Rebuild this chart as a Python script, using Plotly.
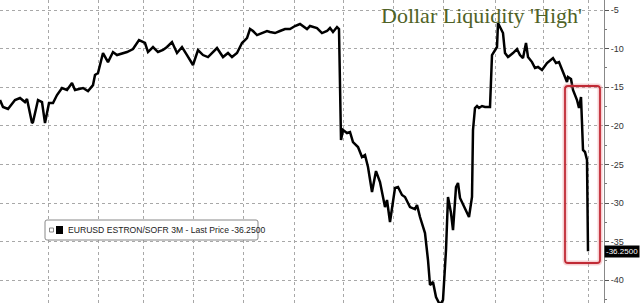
import plotly.graph_objects as go

# trading-day index (approx.) and spread values in bp
day = [0, 3, 8, 15, 20, 25, 27, 32, 33, 38, 42, 45, 49, 53, 57, 62, 67, 72, 75, 83,
       88, 93, 95, 98, 103, 108, 113, 117, 127, 133, 139, 145, 148, 153, 158, 163, 167, 172, 177, 182,
       187, 193, 198, 203, 208, 217, 223, 228, 232, 237, 242, 247, 250, 253, 257, 262, 267, 270, 275, 280,
       285, 290, 295, 300, 307, 310, 317, 322, 327, 330, 333, 337, 339, 341, 343, 347, 350, 353, 358, 362,
       365, 368, 372, 376, 380, 385, 387, 390, 395, 398, 402, 405, 410, 415, 417, 420, 425, 428, 430, 433,
       436, 440, 443, 446, 448, 451, 453, 456, 458, 460, 465, 469, 472, 473, 475, 477, 479, 482, 485, 490,
       492, 495, 497, 498, 500, 503, 505, 508, 513, 517, 520, 523, 526, 528, 532, 535, 538, 542, 547, 553,
       556, 559, 563, 567, 568, 571, 573, 577, 579, 581, 582, 583, 585, 587, 588]
spread = [-16.66, -17.56, -17.82, -16.66, -16.40, -16.92, -16.53, -19.64, -19.51, -16.66, -16.92, -19.64, -17.05, -17.05, -16.01, -15.10, -15.36, -14.46, -15.36, -15.10,
          -15.49, -14.72, -13.42, -13.16, -10.57, -11.74, -10.44, -10.83, -10.44, -10.05, -8.89, -9.27, -10.44, -9.79, -10.44, -10.18, -9.79, -9.15, -10.57, -9.79,
          -10.83, -12.12, -10.18, -10.83, -11.09, -9.92, -11.09, -10.57, -11.09, -10.57, -9.27, -8.63, -7.46, -7.72, -8.24, -7.98, -7.72, -7.85, -7.98, -7.72,
          -7.46, -7.46, -7.07, -6.81, -7.46, -7.07, -7.33, -7.98, -7.72, -7.33, -7.85, -7.20, -7.46, -21.84, -20.54, -20.93, -20.80, -22.10, -22.75, -24.04,
          -23.78, -25.34, -28.58, -25.86, -27.28, -30.52, -29.61, -32.46, -28.06, -27.93, -28.96, -29.22, -30.52, -30.78, -30.26, -31.81, -33.89, -37.38, -40.62, -40.23,
          -42.18, -43.20, -42.56, -36.09, -29.22, -31.30, -33.50, -27.93, -27.41, -29.35, -30.65, -31.81, -29.22, -20.54, -17.69, -17.44, -17.69, -17.44, -17.56, -17.56,
          -10.83, -10.18, -9.79, -6.68, -7.20, -7.98, -10.57, -11.09, -10.57, -10.05, -10.83, -11.22, -9.27, -11.09, -11.74, -12.51, -12.38, -12.77, -11.87, -11.22,
          -11.87, -11.74, -13.03, -14.33, -13.68, -13.94, -15.36, -16.66, -17.69, -16.27, -19.64, -23.13, -23.39, -24.43, -36.25]

grid_days = [48, 98, 143, 193, 243, 294, 343, 393, 443, 495, 543, 588]
y_ticks = [-5, -10, -15, -20, -25, -30, -35, -40]
y_labels = ["-5", "-10", "-15", "-20", "-25", "-30", "-35", "-40"]
last_price = -36.25
title_text = "Dollar Liquidity 'High'"
legend_text = "EURUSD ESTRON/SOFR 3M - Last Price -36.2500"
box_x = [565, 600]
box_y = [-14.84, -37.77]

fig = go.Figure()
fig.add_trace(go.Scatter(x=day, y=spread, mode="lines",
                         line=dict(color="black", width=2.5), showlegend=False,
                         hoverinfo="skip"))

def rounded(x0, x1, y0, y1, rx, ry):
    return (f"M {x0+rx},{y0} L {x1-rx},{y0} Q {x1},{y0} {x1},{y0-ry} "
            f"L {x1},{y1+ry} Q {x1},{y1} {x1-rx},{y1} L {x0+rx},{y1} "
            f"Q {x0},{y1} {x0},{y1+ry} L {x0},{y0-ry} Q {x0},{y0} {x0+rx},{y0} Z")

p = rounded(box_x[0], box_x[1], box_y[0], box_y[1], 3, 0.4)
fig.add_shape(type="path", path=p, xref="x", yref="y",
              line=dict(color="rgba(230,120,130,0.35)", width=5))
fig.add_shape(type="path", path=p, xref="x", yref="y",
              line=dict(color="#c02a35", width=1.8))

# legend box
fig.add_shape(type="path", xref="paper", yref="paper",
              path=rounded(45/604, 258/604, 1-220/303, 1-240/303, 2/604, 2/303),
              fillcolor="white", line=dict(color="#888", width=1), layer="above")
fig.add_shape(type="rect", xref="paper", yref="paper",
              x0=49.5/604, x1=53.5/604, y0=1-232/303, y1=1-228/303,
              line=dict(color="#888", width=1), fillcolor="white", layer="above")
fig.add_shape(type="rect", xref="paper", yref="paper",
              x0=56/604, x1=63/604, y0=1-234/303, y1=1-226/303,
              line=dict(color="black", width=0), fillcolor="black", layer="above")
fig.add_annotation(text=legend_text, xref="paper", yref="paper",
                   x=65.5/604, y=1-230/303, xanchor="left", yanchor="middle",
                   showarrow=False, font=dict(family="Liberation Sans", size=8.6, color="#222"))

# last price tag
fig.add_annotation(text=f"{last_price:.4f}", xref="paper", yref="y",
                   x=1, y=last_price, xanchor="left", yanchor="middle",
                   showarrow=False, bgcolor="black", borderpad=1,
                   font=dict(family="Liberation Sans Narrow, Liberation Sans", size=8, color="white"))

# title
fig.add_annotation(text=title_text, xref="paper", yref="paper",
                   x=481/604, y=1-15/303, xanchor="center", yanchor="middle",
                   showarrow=False,
                   font=dict(family="Liberation Serif", size=22, color="#4f6226"))

fig.update_xaxes(range=[0, 604], tickvals=grid_days, showticklabels=False,
                 showgrid=True, griddash="dot", gridcolor="#a8a8a8", gridwidth=1,
                 zeroline=False, showline=False, ticks="")
fig.update_yaxes(range=[-42.95, -3.70], side="right", tickvals=y_ticks, ticktext=y_labels,
                 showgrid=True, griddash="dot", gridcolor="#a8a8a8", gridwidth=1,
                 zeroline=False, showline=True, linecolor="#888", linewidth=1,
                 ticks="outside", ticklen=4, tickcolor="#555",
                 minor=dict(dtick=2.5, tick0=0, ticks="outside", ticklen=2, tickcolor="#777", showgrid=False),
                 tickfont=dict(family="Liberation Sans", size=9, color="#333"))

fig.update_layout(width=640, height=303, margin=dict(l=0, r=36, t=0, b=0),
                  paper_bgcolor="white", plot_bgcolor="white")
fig.write_html("out.html")
